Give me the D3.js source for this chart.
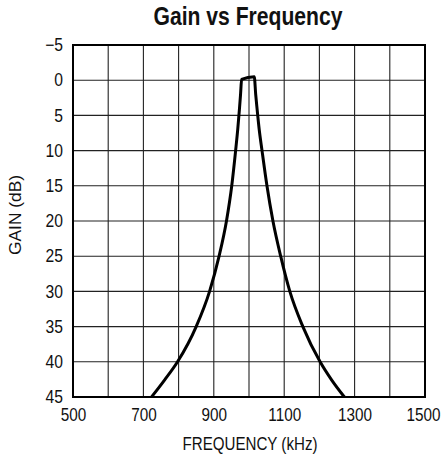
<!DOCTYPE html>
<html><head><meta charset="utf-8">
<script src="https://cdn.jsdelivr.net/npm/d3@7"></script>
<style>
body{margin:0;background:#fff;}
text{font-family:"Liberation Sans",Arial,sans-serif;}
</style></head>
<body><svg id="c" width="444" height="458"></svg>
<script>
const freq = [723,760,797,850,888,915,936,951,962,968,973,976,979,1015,1019,1022.8,1029,1037,1051,1068,1090,1116,1153,1202,1235,1271];
const gain = [45,42.6,40,35,30,25,20,15,10,7,4,2,-0.1,-0.5,2,4,7,10,15,20,25,30,35,40,42.6,45];
const xTickLabels = [500,700,900,1100,1300,1500];
const xGrid = [500,600,700,800,900,1000,1100,1200,1300,1400,1500];
const yTicks = [-5,0,5,10,15,20,25,30,35,40,45];

const svg = d3.select("#c");
const L=73,R=425,T=45,B=397;
const x = d3.scaleLinear().domain([500,1500]).range([L,R]);
const y = d3.scaleLinear().domain([-5,45]).range([T,B]);

// grid
svg.append("g").selectAll("line").data(xGrid).join("line")
  .attr("x1",d=>x(d)).attr("x2",d=>x(d)).attr("y1",T).attr("y2",B)
  .attr("stroke","#222").attr("stroke-width",1.1);
svg.append("g").selectAll("line").data(yTicks).join("line")
  .attr("x1",L).attr("x2",R).attr("y1",d=>y(d)).attr("y2",d=>y(d))
  .attr("stroke","#222").attr("stroke-width",1.1);
svg.append("rect").attr("x",L).attr("y",T).attr("width",R-L).attr("height",B-T)
  .attr("fill","none").attr("stroke","#000").attr("stroke-width",2);

// axes (labels narrowed with a horizontal scale to mimic the condensed face)
const xs = 0.85, ys = 0.87;
const xa = svg.append("g").attr("transform",`translate(0,${B})`)
  .call(d3.axisBottom(x).tickValues(xTickLabels).tickSize(0).tickPadding(11).tickFormat(d3.format("d")));
xa.select(".domain").remove();
xa.selectAll("text").attr("font-size",18).attr("fill","#111")
  .style("font-family",'"Liberation Sans",Arial,sans-serif')
  .attr("transform",`scale(${xs},1)`);
xa.selectAll("text").filter(d=>d===1500).attr("text-anchor","end").attr("x",15/xs);
const ya = svg.append("g").attr("transform",`translate(${L},0)`)
  .call(d3.axisLeft(y).tickValues(yTicks).tickSize(0).tickPadding(10)
    .tickFormat(d=>d<0?"\u2212"+Math.abs(d):d));
ya.select(".domain").remove();
ya.selectAll("text").attr("font-size",18).attr("fill","#111")
  .style("font-family",'"Liberation Sans",Arial,sans-serif')
  .attr("x",-10/ys).attr("transform",`scale(${ys},1)`);

// curve
const pts = freq.map((f,i)=>[f,gain[i]]);
svg.append("path").datum(pts)
  .attr("d",d3.line().x(d=>x(d[0])).y(d=>y(d[1])).curve(d3.curveMonotoneX))
  .attr("fill","none").attr("stroke","#000").attr("stroke-width",3).attr("stroke-linejoin","round");

// titles
svg.append("text").attr("x",248).attr("y",25).attr("text-anchor","middle")
  .attr("font-size",26).attr("font-weight","bold").attr("fill","#111")
  .attr("textLength",189).attr("lengthAdjust","spacingAndGlyphs").text("Gain vs Frequency");
svg.append("text").attr("x",250).attr("y",450).attr("text-anchor","middle")
  .attr("font-size",18).attr("fill","#111")
  .attr("textLength",135).attr("lengthAdjust","spacingAndGlyphs").text("FREQUENCY (kHz)");
svg.append("text").attr("transform","translate(21,215) rotate(-90)").attr("text-anchor","middle")
  .attr("font-size",16).attr("fill","#111")
  .attr("textLength",80).attr("lengthAdjust","spacingAndGlyphs").text("GAIN (dB)");
</script></body></html>
